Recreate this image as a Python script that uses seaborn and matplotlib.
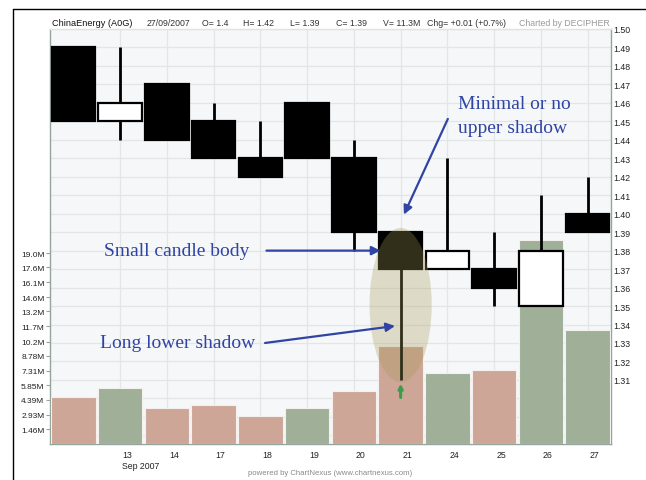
import numpy as np
import pandas as pd
import matplotlib.pyplot as plt
import seaborn as sns
from matplotlib.patches import Ellipse
from matplotlib.lines import Line2D
from matplotlib.transforms import ScaledTranslation

# ---------- data (ChinaEnergy, Sep 2007) ----------
days   = ["12", "13", "14", "17", "18", "19", "20", "21", "24", "25", "26", "27"]
opens  = [1.49, 1.45, 1.47, 1.45, 1.43, 1.46, 1.43, 1.39, 1.37, 1.37, 1.35, 1.40]
highs  = [1.49, 1.49, 1.47, 1.46, 1.45, 1.46, 1.44, 1.39, 1.43, 1.39, 1.41, 1.42]
lows   = [1.45, 1.44, 1.44, 1.43, 1.42, 1.43, 1.38, 1.31, 1.37, 1.35, 1.35, 1.39]
closes = [1.45, 1.46, 1.44, 1.43, 1.42, 1.43, 1.39, 1.37, 1.38, 1.36, 1.38, 1.39]
volume_m = [4.66, 5.55, 3.54, 3.90, 2.74, 3.54, 5.28, 9.71, 7.10, 7.33, 20.3, 11.3]

price_ticks = [1.31, 1.32, 1.33, 1.34, 1.35, 1.36, 1.37, 1.38, 1.39, 1.40,
               1.41, 1.42, 1.43, 1.44, 1.45, 1.46, 1.47, 1.48, 1.49, 1.50]
grid_levels = [1.28, 1.29, 1.30] + price_ticks
vol_ticks = [1.46, 2.93, 4.39, 5.85, 7.31, 8.78, 10.2, 11.7, 13.2, 14.6, 16.1, 17.6, 19.0]
vol_labels = ["1.46M", "2.93M", "4.39M", "5.85M", "7.31M", "8.78M", "10.2M",
              "11.7M", "13.2M", "14.6M", "16.1M", "17.6M", "19.0M"]

header = ["ChinaEnergy (A0G)", "27/09/2007", "O= 1.4", "H= 1.42", "L= 1.39",
          "C= 1.39", "V= 11.3M", "Chg= +0.01 (+0.7%)"]

# up/down volume colouring from close-to-close change
direction = ["down"] + ["up" if c > p else "down" for p, c in zip(closes[:-1], closes[1:])]
df = pd.DataFrame({"day": days, "open": opens, "high": highs, "low": lows,
                   "close": closes, "volume": volume_m, "dir": direction})

sns.set_style("white")
plt.rcParams["font.family"] = ["Liberation Sans", "DejaVu Sans"]

W, H = 646, 481
fig = plt.figure(figsize=(W / 100, H / 100), dpi=100)
left, right, top, bottom = 50, 611, 30, 445
ax = fig.add_axes([left / W, 1 - bottom / H, (right - left) / W, (bottom - top) / H])
axv = ax.twinx()
axp = ax.twinx()

spine_col = "#93a59c"
ymin, ymax = 1.2753, 1.50

# ---------- base axes: background, grid, price ticks ----------
ax.set_facecolor("#f6f7f9")
ax.set_xlim(-0.5, len(days) - 0.5)
ax.set_ylim(ymin, ymax)
ax.set_yticks(grid_levels)
ax.set_yticklabels(["" if v < 1.31 else f"{v:.2f}" for v in grid_levels])
ax.yaxis.tick_right()
ax.grid(True, color="#e4e6e6", linewidth=0.9)
ax.set_axisbelow(True)
for s in ax.spines.values():
    s.set_color(spine_col)
    s.set_linewidth(1.0)
ax.spines["top"].set_color("#e0e3e3")
ax.tick_params(axis="y", length=0, pad=2, labelsize=6.3, labelcolor="#222222")

# ---------- volume bars ----------
sns.barplot(data=df, x="day", y="volume", hue="dir", dodge=False,
            palette={"down": "#d6a28f", "up": "#9db394"}, width=0.95,
            edgecolor="#f3f0ee", linewidth=0.8, errorbar=None, legend=False, ax=axv)
axv.set_ylim(0, 41.3)
axv.set_yticks(vol_ticks)
axv.set_yticklabels(vol_labels)
axv.yaxis.tick_left()
axv.set_xlabel("")
axv.set_ylabel("")
axv.tick_params(axis="y", length=3, width=0.8, color=spine_col, pad=1,
                labelsize=6.0, labelcolor="#222222")
for s in axv.spines.values():
    s.set_visible(False)

# ---------- candles ----------
x = np.arange(len(days))
body_lo = np.minimum(df["open"], df["close"])
body_hi = np.maximum(df["open"], df["close"])
body_col = ["black" if c < o else "white" for o, c in zip(opens, closes)]
axp.vlines(x, df["low"], df["high"], color="black", linewidth=2.0, zorder=2)
axp.bar(x, body_hi - body_lo, bottom=body_lo, width=0.93, color=body_col,
        edgecolor="black", linewidth=1.6, zorder=3)
axp.set_ylim(ymin, ymax)
axp.yaxis.set_visible(False)
for s in axp.spines.values():
    s.set_visible(False)

# x ticks (shared) : label sits to the right of the tick mark
ax.set_xticks(x[1:])
xlabels = [d for d in days[1:]]
xlabels[0] = xlabels[0] + "\nSep 2007"
ax.set_xticklabels(xlabels, ha="left", va="top", linespacing=1.25)
ax.tick_params(axis="x", length=9, width=0.8, color=spine_col, pad=-4.5,
               labelsize=6.3, labelcolor="#222222")
for lab in ax.get_xticklabels():
    lab.set_transform(lab.get_transform() + ScaledTranslation(1.5 / 72, 0, fig.dpi_scale_trans))

# ---------- annotations ----------
blue = "#2f44a3"
serif = ["Liberation Serif", "DejaVu Serif"]
axp.add_patch(Ellipse((7.0, 1.3506), 1.33, 0.0834, facecolor="#a49a55",
                      alpha=0.3, edgecolor="none", zorder=5))
axp.annotate("", xy=(7.0, 1.3080), xytext=(7.0, 1.3005),
             arrowprops=dict(arrowstyle="-|>", color="#3a9d4c", lw=2.2,
                             mutation_scale=6, shrinkA=0, shrinkB=0), zorder=6)

arrow = dict(arrowstyle="-|>", color=blue, lw=1.6, mutation_scale=13,
             shrinkA=0, shrinkB=0)
axp.annotate("", xy=(7.07, 1.3995), xytext=(8.01, 1.4513), arrowprops=arrow, zorder=7)
axp.annotate("", xy=(6.57, 1.3800), xytext=(4.13, 1.3800), arrowprops=arrow, zorder=7)
axp.annotate("", xy=(6.88, 1.3392), xytext=(4.10, 1.3300), arrowprops=arrow, zorder=7)

axp.text(8.22, 1.4572, "Minimal or no", color=blue, fontsize=14, family=serif, va="baseline")
axp.text(8.22, 1.4442, "upper shadow", color=blue, fontsize=14, family=serif, va="baseline")
axp.text(0.66, 1.3774, "Small candle body", color=blue, fontsize=14, family=serif, va="baseline")
axp.text(0.58, 1.3277, "Long lower shadow", color=blue, fontsize=14, family=serif, va="baseline")

# ---------- header / footer ----------
def fx(px):
    return px / W

def fy(py):
    return 1 - py / H

hx = [51.5, 146.5, 201.5, 243, 290, 336, 383, 427]
for i, (t, px) in enumerate(zip(header, hx)):
    fig.text(fx(px), fy(24), t, fontsize=6.6 if i == 0 else 6.3,
             color="#111111" if i == 0 else "#333333", va="center", ha="left")
fig.text(fx(610), fy(24), "Charted by DECIPHER", fontsize=6.3, color="#9a9a9a",
         va="center", ha="right")
fig.text(fx(330), fy(474), "powered by ChartNexus (www.chartnexus.com)",
         fontsize=5.6, color="#8a8a8a", va="center", ha="center")

# outer frame (top and left)
fig.add_artist(Line2D([fx(12.5), fx(12.5)], [fy(9.5), 0], color="black", lw=1.0))
fig.add_artist(Line2D([fx(12.5), 1], [fy(9.5), fy(9.5)], color="black", lw=1.0))

fig.savefig("out.png", dpi=100)
